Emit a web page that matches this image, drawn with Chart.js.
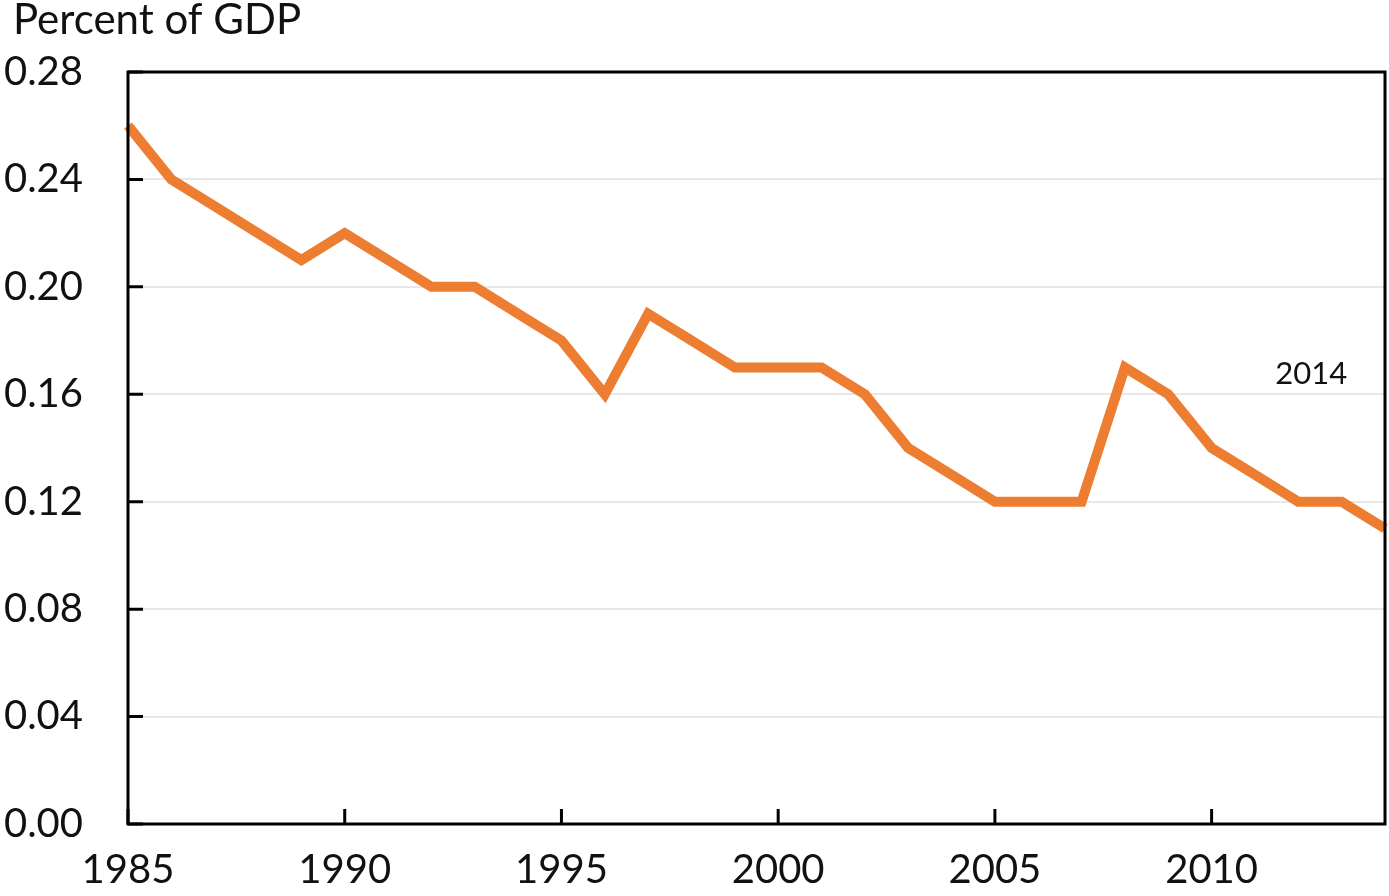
<!DOCTYPE html>
<html>
<head>
<meta charset="utf-8">
<script src="https://cdn.jsdelivr.net/npm/chart.js@4/dist/chart.umd.min.js"></script>
<style>
  html, body { margin: 0; padding: 0; background: #fff; }
  #wrap { width: 1389px; height: 896px; }
</style>
</head>
<body>
<div id="wrap"><canvas id="lineChart"></canvas></div>
<script>
// years and values
let anios = [1985, 1986, 1987, 1988, 1989, 1990, 1991, 1992, 1993, 1994,
             1995, 1996, 1997, 1998, 1999, 2000, 2001, 2002, 2003, 2004,
             2005, 2006, 2007, 2008, 2009, 2010, 2011, 2012, 2013, 2014];
let porcentaje = [0.26, 0.24, 0.23, 0.22, 0.21, 0.22, 0.21, 0.20, 0.20, 0.19,
                  0.18, 0.16, 0.19, 0.18, 0.17, 0.17, 0.17, 0.16, 0.14, 0.13,
                  0.12, 0.12, 0.12, 0.17, 0.16, 0.14, 0.13, 0.12, 0.12, 0.11];
let ticksY = [0, 0.04, 0.08, 0.12, 0.16, 0.20, 0.24, 0.28];
let ticksX = [1985, 1990, 1995, 2000, 2005, 2010];
let tituloY = 'Percent of GDP';
let nota = { texto: '2014', x: 2012.3, y: 0.1675 };

let fuente = 'Lato, "Open Sans", sans-serif';

let puntos = [];
for (let i = 0; i < anios.length; i++) {
    puntos.push({ x: anios[i], y: porcentaje[i] });
}

// frame, inward ticks, title and the 2014 note
const extras = {
    id: 'extras',
    afterDraw(chart) {
        const c = chart.ctx;
        const a = chart.chartArea;
        const sx = chart.scales.x;
        const sy = chart.scales.y;
        c.save();
        c.strokeStyle = '#000';
        c.lineWidth = 3;
        c.strokeRect(a.left, a.top, a.right - a.left, a.bottom - a.top);
        c.beginPath();
        ticksY.forEach(v => {
            const py = sy.getPixelForValue(v);
            c.moveTo(a.left, py);
            c.lineTo(a.left + 15, py);
        });
        ticksX.forEach(v => {
            const px = sx.getPixelForValue(v);
            c.moveTo(px, a.bottom);
            c.lineTo(px, a.bottom - 15);
        });
        c.stroke();
        c.fillStyle = '#111';
        c.font = '42px ' + fuente;
        c.textBaseline = 'middle';
        c.textAlign = 'left';
        c.fillText(tituloY, 13, 20);
        c.font = '31px ' + fuente;
        c.textAlign = 'center';
        c.fillText(nota.texto, sx.getPixelForValue(nota.x), sy.getPixelForValue(nota.y));
        c.restore();
    }
};

var ctxL = document.getElementById('lineChart').getContext('2d');
var myLineChart = new Chart(ctxL, {
    type: 'line',
    data: {
        datasets: [{
            label: tituloY,
            data: puntos,
            borderColor: '#ED7D31',
            backgroundColor: '#ED7D31',
            borderWidth: 10,
            pointRadius: 0,
            tension: 0,
            clip: false
        }]
    },
    options: {
        responsive: true,
        maintainAspectRatio: false,
        animation: false,
        layout: { padding: { top: 72, right: 4, left: 0, bottom: 0 } },
        plugins: { legend: { display: false }, tooltip: { enabled: false } },
        scales: {
            x: {
                type: 'linear',
                min: 1985,
                max: 2014,
                afterFit: s => { s.height = 72; },
                afterBuildTicks: s => { s.ticks = ticksX.map(v => ({ value: v })); },
                grid: { display: false, drawTicks: false },
                border: { display: false },
                ticks: {
                    padding: 22,
                    color: '#111',
                    font: { family: fuente, size: 40 },
                    maxRotation: 0,
                    autoSkip: false,
                    callback: v => String(v)
                }
            },
            y: {
                min: 0,
                max: 0.28,
                afterFit: s => { s.width = 128; },
                afterBuildTicks: s => { s.ticks = ticksY.map(v => ({ value: v })); },
                grid: {
                    drawTicks: false,
                    color: ctx => (ctx.tick && (ctx.tick.value === 0 || ctx.tick.value === 0.28)) ? 'rgba(0,0,0,0)' : '#e8e8e8',
                    lineWidth: 2
                },
                border: { display: false },
                ticks: {
                    padding: 45,
                    color: '#111',
                    font: { family: fuente, size: 40 },
                    callback: v => v.toFixed(2)
                }
            }
        }
    },
    plugins: [extras]
});
</script>
</body>
</html>
